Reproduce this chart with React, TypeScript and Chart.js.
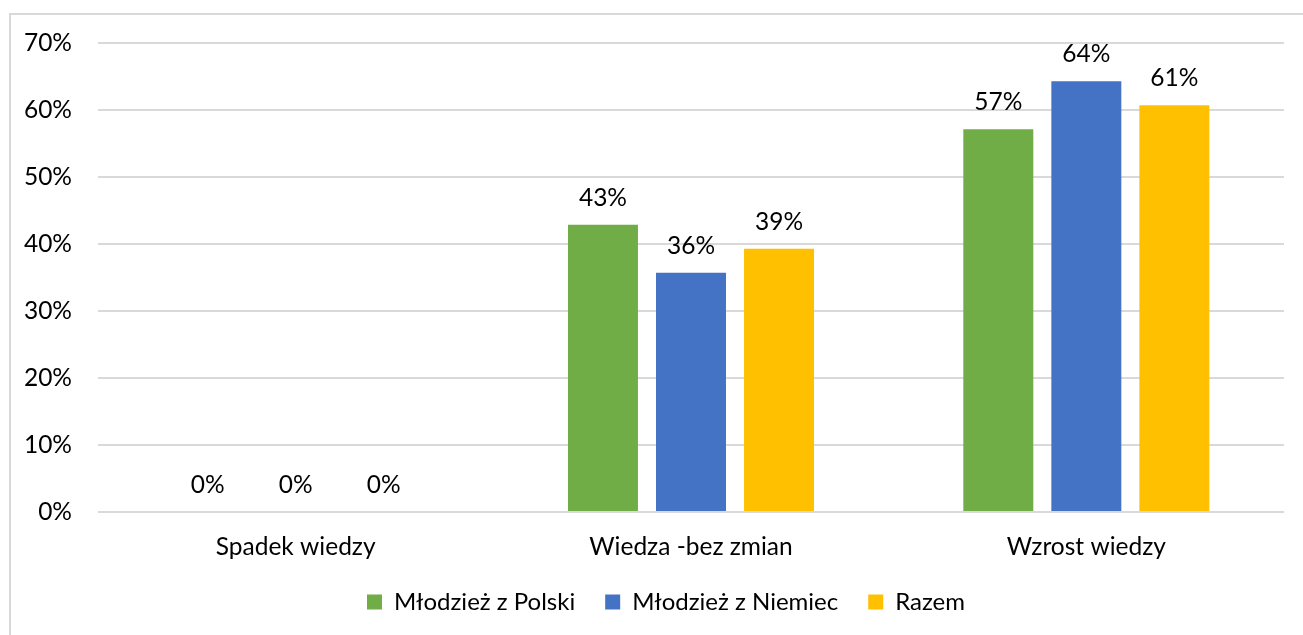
import React, { useEffect, useRef } from "react";
import { Chart, registerables } from "chart.js";

Chart.register(...registerables);

const categories = ["Spadek wiedzy", "Wiedza -bez zmian", "Wzrost wiedzy"];
const seriesNames = ["Młodzież z Polski", "Młodzież z Niemiec", "Razem"];
const polskaValues = [0, 42.86, 57.14];
const niemcyValues = [0, 35.71, 64.29];
const razemValues = [0, 39.29, 60.71];
const seriesColors = ["#70AD47", "#4472C4", "#FFC000"];
const yMax = 70;
const yStep = 10;

const FONT = "Lato, 'Open Sans', sans-serif";

const borderPlugin = {
  id: "outerBorder",
  beforeDraw(chart: any) {
    const ctx = chart.ctx;
    ctx.save();
    ctx.fillStyle = "#ffffff";
    ctx.fillRect(0, 0, chart.width, chart.height);
    ctx.strokeStyle = "#D9D9D9";
    ctx.lineWidth = 2;
    ctx.strokeRect(10, 14, chart.width + 40, chart.height + 40);
    ctx.restore();
  },
};

const legendShiftPlugin = {
  id: "legendShift",
  afterLayout(chart: any) {
    if (chart.legend) {
      chart.legend.left += 24;
      chart.legend.right += 24;
    }
  },
};

const dataLabelPlugin = {
  id: "dataLabels",
  afterDatasetsDraw(chart: any) {
    const ctx = chart.ctx;
    ctx.save();
    ctx.font = `24.5px ${FONT}`;
    ctx.fillStyle = "#000000";
    ctx.textAlign = "center";
    ctx.textBaseline = "alphabetic";
    chart.data.datasets.forEach((ds: any, di: number) => {
      const meta = chart.getDatasetMeta(di);
      meta.data.forEach((el: any, i: number) => {
        const v = ds.data[i];
        ctx.fillText(`${Math.round(v)}%`, el.x, el.y - 19);
      });
    });
    ctx.restore();
  },
};

export default function App() {
  const ref = useRef<HTMLCanvasElement | null>(null);

  useEffect(() => {
    if (!ref.current) return;
    const chart = new Chart(ref.current, {
      type: "bar",
      data: {
        labels: categories,
        datasets: [
          { label: seriesNames[0], data: polskaValues, backgroundColor: seriesColors[0] },
          { label: seriesNames[1], data: niemcyValues, backgroundColor: seriesColors[1] },
          { label: seriesNames[2], data: razemValues, backgroundColor: seriesColors[2] },
        ],
      },
      options: {
        responsive: false,
        animation: false,
        devicePixelRatio: 1,
        datasets: {
          bar: { categoryPercentage: 0.668, barPercentage: 0.795 },
        },
        layout: { padding: { left: 0, right: 19, top: 43, bottom: 11 } },
        plugins: {
          tooltip: { enabled: false },
          legend: {
            position: "bottom",
            labels: {
              font: { family: FONT, size: 24 },
              color: "#000000",
              boxWidth: 15,
              boxHeight: 15,
              padding: 30,
            },
          },
        },
        scales: {
          x: {
            grid: { display: false, drawTicks: false },
            border: { display: false },
            ticks: { font: { family: FONT, size: 24.5 }, color: "#000000", padding: 20 },
            afterFit(scale: any) {
              scale.height = 48;
            },
          },
          y: {
            min: 0,
            max: yMax,
            grid: { color: "#D9D9D9", lineWidth: 2, drawTicks: false },
            border: { display: false },
            ticks: {
              stepSize: yStep,
              font: { family: FONT, size: 24.5 },
              color: "#000000",
              padding: 26,
              callback: (v: any) => `${v}%`,
            },
            afterFit(scale: any) {
              scale.width = 98;
            },
          },
        },
      },
      plugins: [borderPlugin, legendShiftPlugin, dataLabelPlugin],
    });
    return () => chart.destroy();
  }, []);

  return (
    <div style={{ position: "fixed", left: 0, top: 0, width: 1303, height: 635 }}>
      <canvas ref={ref} width={1303} height={635} style={{ width: 1303, height: 635 }} />
    </div>
  );
}
